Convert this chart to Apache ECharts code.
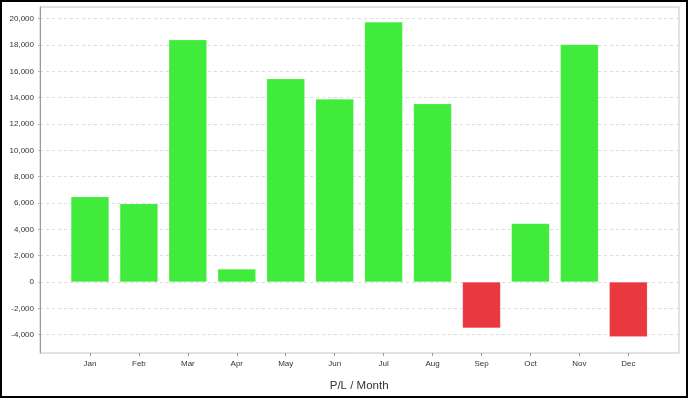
<!DOCTYPE html>
<html>
<head>
<meta charset="utf-8">
<script src="https://cdn.jsdelivr.net/npm/echarts@6/dist/echarts.min.js"></script>
<style>
html,body{margin:0;padding:0;background:#fff;}
#chart{width:688px;height:398px;}
</style>
</head>
<body>
<div id="chart"></div>
<script>
// data
var months = ['Jan','Feb','Mar','Apr','May','Jun','Jul','Aug','Sep','Oct','Nov','Dec'];
var profit = [6480, 5950, 18400, 990, 15440, 13900, 19750, 13540, -3500, 4450, 18050, -4150];
var yTicks = [-4000,-2000,0,2000,4000,6000,8000,10000,12000,14000,16000,18000,20000];
var yMin = -5390, yMax = 20890;

var green = '#40eb3c', red = '#e9393e';

var chart = echarts.init(document.getElementById('chart'));

var bars = [];
for (var i = 0; i < profit.length; i++) {
	bars.push({
		value: profit[i],
		itemStyle: {color: profit[i] < 0 ? red : green}
	});
}

option = {
	animation: false,
	textStyle: {fontFamily: 'Liberation Sans'},
	graphic: [{
		type: 'rect',
		shape: {x: 1, y: 1, width: 686, height: 396},
		style: {fill: 'none', stroke: '#000', lineWidth: 2},
		z: 100
	}],
	grid: [
		// frame + value axis
		{left: 40, top: 7, right: 9, bottom: 45, show: true, borderColor: '#c4c4c4', borderWidth: 1, backgroundColor: 'transparent'},
		// bars, narrower because of the category margins
		{left: 65.5, top: 7, right: 35.2, bottom: 45}
	],
	xAxis: [
		{gridIndex: 0, type: 'value', min: 0, max: 1, show: false},
		{
			gridIndex: 1,
			type: 'category',
			position: 'bottom',
			data: months,
			boundaryGap: true,
			axisLine: {show: false, onZero: false},
			axisTick: {show: true, alignWithLabel: true, length: 3, lineStyle: {color: '#999'}},
			axisLabel: {color: '#333', fontSize: 8, margin: 7},
			name: 'P/L / Month',
			nameLocation: 'middle',
			nameGap: 27,
			nameTextStyle: {color: '#333', fontSize: 11.5}
		}
	],
	yAxis: [
		{
			gridIndex: 0,
			type: 'value',
			min: yMin,
			max: yMax,
			axisLine: {show: true, lineStyle: {color: '#999'}},
			axisTick: {show: true, length: 2, customValues: yTicks, lineStyle: {color: '#bbb'}},
			axisLabel: {
				color: '#333', fontSize: 8, margin: 6, customValues: yTicks,
				formatter: function (v) { return v.toLocaleString('en-US'); }
			},
			splitLine: {show: true, lineStyle: {color: '#dcdcdc', type: [3, 3]}}
		},
		{gridIndex: 1, type: 'value', min: yMin, max: yMax, show: false, splitLine: {show: false}}
	],
	series: [
		{
			type: 'bar',
			xAxisIndex: 1,
			yAxisIndex: 1,
			barWidth: 38,
			data: bars,
			itemStyle: {borderColor: 'rgba(255,255,255,0.3)', borderWidth: 0.5}
		}
	]
};
chart.setOption(option);
</script>
</body>
</html>
